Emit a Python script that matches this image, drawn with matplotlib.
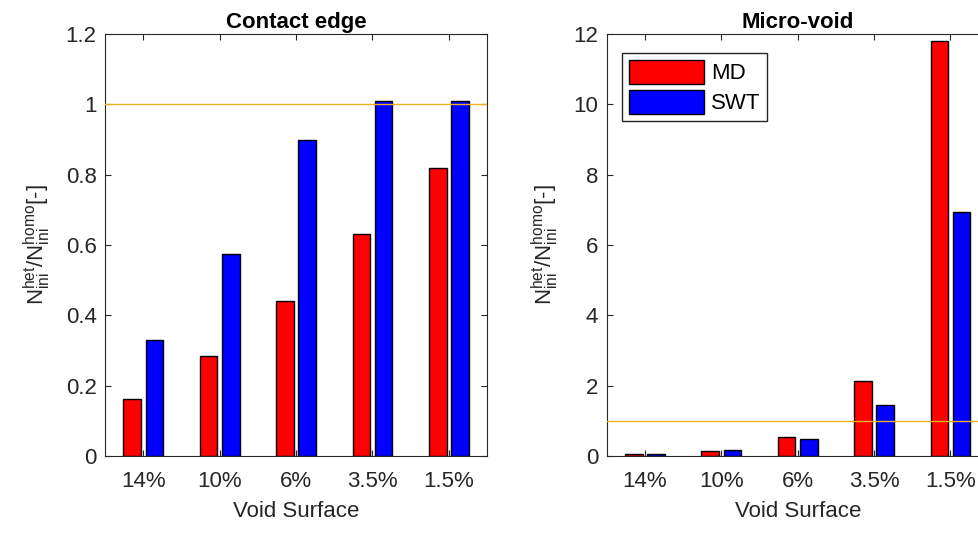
import matplotlib.pyplot as plt
import numpy as np

plt.rcParams['font.family'] = ['Liberation Sans', 'DejaVu Sans']
plt.rcParams['mathtext.fontset'] = 'custom'
plt.rcParams['mathtext.rm'] = 'Liberation Sans'
plt.rcParams['mathtext.it'] = 'Liberation Sans'

categories = ['14%', '10%', '6%', '3.5%', '1.5%']
edge_md = [0.163, 0.285, 0.442, 0.630, 0.818]
edge_swt = [0.330, 0.575, 0.900, 1.010, 1.010]
void_md = [0.057, 0.14, 0.55, 2.13, 11.79]
void_swt = [0.05, 0.16, 0.48, 1.45, 6.93]

panels = [
    ('Contact edge', edge_md, edge_swt, [0, 1.2], np.arange(0, 1.21, 0.2),
     ['0', '0.2', '0.4', '0.6', '0.8', '1', '1.2'], 0.1073),
    ('Micro-void', void_md, void_swt, [0, 12], np.arange(0, 12.1, 2),
     ['0', '2', '4', '6', '8', '10', '12'], 0.6197),
]

fig = plt.figure(figsize=(9.79, 5.57), dpi=100, facecolor='w')
x = np.arange(1, len(categories) + 1)
w = 0.23
off = 0.145
fs = 16
ylab = r'$\mathregular{N_{ini}^{het}/N_{ini}^{homo}}$[-]'

for i, (title, md, swt, ylim, yt, ytl, left) in enumerate(panels):
    ax = fig.add_axes([left, 0.1813, 0.3902, 0.7576])
    ax.bar(x - off, md, w, color='#ff0000', edgecolor='black', linewidth=1, label='MD', zorder=2)
    ax.bar(x + off, swt, w, color='#0000ff', edgecolor='black', linewidth=1, label='SWT', zorder=2)
    ax.axhline(1, color=(0.929, 0.694, 0.125), linewidth=1, zorder=3)
    ax.set_xlim(0.5, 5.5)
    ax.set_ylim(ylim)
    ax.set_xticks(x)
    ax.set_xticklabels(categories)
    ax.set_yticks(yt)
    ax.set_yticklabels(ytl)
    ax.tick_params(direction='in', length=4, width=0.8, colors='#262626',
                   labelsize=fs, top=True, right=True)
    ax.tick_params(axis='x', pad=11)
    ax.tick_params(axis='y', pad=6)
    for s in ax.spines.values():
        s.set_color('#262626')
        s.set_linewidth(0.8)
    ax.set_title(title, fontsize=fs, fontweight='bold', pad=4)
    ax.set_xlabel('Void Surface', fontsize=fs, color='#262626', labelpad=6)
    ax.set_ylabel(ylab, fontsize=fs, color='#262626', labelpad=9)
    if i == 1:
        ax.legend(loc='upper left', bbox_to_anchor=(0.04, 0.955), fontsize=fs,
                  handlelength=3.4, handleheight=1.3, handletextpad=0.3,
                  labelspacing=0.25, borderpad=0.3, fancybox=False,
                  edgecolor='#262626', framealpha=1, borderaxespad=0)

fig.savefig('out.png', dpi=100)
